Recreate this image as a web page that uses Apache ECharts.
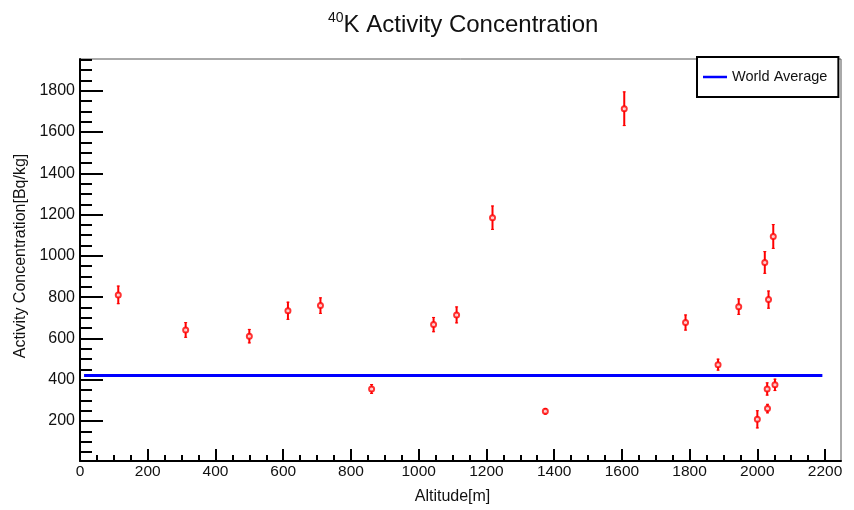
<!DOCTYPE html>
<html>
<head>
<meta charset="utf-8">
<title>40K Activity Concentration</title>
<script src="https://cdn.jsdelivr.net/npm/echarts@6/dist/echarts.min.js"></script>
<style>
  html, body { margin: 0; padding: 0; background: #fff; }
  #chart { width: 854px; height: 510px; }
</style>
</head>
<body>
<div id="chart"></div>
<script>
// sampling sites: altitude [m], 40K activity [Bq/kg] and its error
const altitude    = [113, 312, 500, 614, 710, 861, 1044, 1112, 1218, 1374, 1607, 1788, 1884, 1945, 2000, 2022, 2033, 2047, 2029, 2052, 2030];
const activity    = [811, 641, 611, 734, 759, 355,  667,  714, 1185,  247, 1713,  677,  473,  754,  208,  968,  788, 1094,  355,  375,  260];
const activityErr = [ 45,  38,  35,  44,  40,  24,   37,   41,   59,   16,   84,   39,   29,   40,   44,   55,   44,   60,   32,   30,   23];

// world average line
const worldAverage = 420;
const worldAvgFrom = 12;
const worldAvgTo = 2192;

// axis tick labels
const xTicks = [0, 200, 400, 600, 800, 1000, 1200, 1400, 1600, 1800, 2000, 2200];
const yTicks = [200, 400, 600, 800, 1000, 1200, 1400, 1600, 1800];

const X_MIN = 0, X_MAX = 2247;
const Y_MIN = 6, Y_MAX = 1954;
const FONT = '"Liberation Sans", Helvetica, Arial, sans-serif';
const TXT = '#111';

// small ticks every 50 (ROOT style: 4 divisions per label)
const xMinor = [];
for (let v = 0; v <= X_MAX; v += 50) xMinor.push(v);
const yMinor = [];
for (let v = 50; v <= Y_MAX; v += 50) yMinor.push(v);

const pointData = altitude.map((a, i) => [a, activity[i]]);
const errData = altitude.map((a, i) => [a, activity[i], activityErr[i]]);

// vertical error bar with tiny caps
function renderErrorBar(params, api) {
    const x = api.value(0);
    const y = api.value(1);
    const e = api.value(2);
    const hi = api.coord([x, y + e]);
    const lo = api.coord([x, y - e]);
    const style = { stroke: '#ff0000', lineWidth: 2 };
    return {
        type: 'group',
        children: [
            { type: 'line', shape: { x1: hi[0], y1: hi[1], x2: lo[0], y2: lo[1] }, style: style },
            { type: 'line', shape: { x1: hi[0] - 1.5, y1: hi[1] + 0.5, x2: hi[0] + 1.5, y2: hi[1] + 0.5 }, style: { stroke: '#ff0000', lineWidth: 1 } },
            { type: 'line', shape: { x1: lo[0] - 1.5, y1: lo[1] - 0.5, x2: lo[0] + 1.5, y2: lo[1] - 0.5 }, style: { stroke: '#ff0000', lineWidth: 1 } }
        ]
    };
}

const tickStyle = { color: '#000', width: 2 };
const plainNum = v => String(v);

const chart = echarts.init(document.getElementById('chart'), null, { renderer: 'canvas' });

chart.setOption({
    backgroundColor: '#fff',
    animation: false,
    title: {
        text: '{sup|40}{main|K Activity Concentration}',
        left: 323,
        top: 6,
        textStyle: {
            fontWeight: 'normal',
            rich: {
                sup: { fontSize: 14, fontFamily: FONT, fontWeight: 'normal', color: TXT, verticalAlign: 'top', lineHeight: 16 },
                main: { fontSize: 24, fontFamily: FONT, fontWeight: 'normal', color: TXT, lineHeight: 28 }
            }
        }
    },
    legend: {
        left: 697,
        top: 57,
        orient: 'vertical',
        padding: [12, 11, 12, 6],
        backgroundColor: '#fff',
        borderColor: '#000',
        borderWidth: 2,
        borderRadius: 0,
        itemWidth: 24,
        itemHeight: 2.5,
        itemGap: 0,
        textStyle: { fontSize: 14.5, fontFamily: FONT, color: TXT, lineHeight: 16 },
        data: [{ name: 'World Average', icon: 'rect' }]
    },
    grid: {
        left: 80,
        right: 13,
        top: 59,
        bottom: 49,
        show: true,
        borderColor: '#555',
        borderWidth: 1
    },
    xAxis: [
        {
            type: 'value',
            min: X_MIN,
            max: X_MAX,
            position: 'bottom',
            name: 'Altitude[m]',
            nameLocation: 'middle',
            nameGap: 28,
            nameTextStyle: { fontSize: 16, fontFamily: FONT, color: TXT, padding: [0, 16, 0, 0] },
            axisLine: { show: true, onZero: false, lineStyle: { color: '#000', width: 2 } },
            axisTick: { show: true, inside: true, length: 12, customValues: xTicks, lineStyle: tickStyle },
            axisLabel: { customValues: xTicks, formatter: plainNum, fontSize: 15.5, fontFamily: FONT, color: TXT, margin: 3 },
            splitLine: { show: false }
        },
        {
            type: 'value',
            min: X_MIN,
            max: X_MAX,
            position: 'bottom',
            axisLine: { show: false, onZero: false },
            axisTick: { show: true, inside: true, length: 6, customValues: xMinor, lineStyle: tickStyle },
            axisLabel: { show: false },
            splitLine: { show: false }
        }
    ],
    yAxis: [
        {
            type: 'value',
            min: Y_MIN,
            max: Y_MAX,
            position: 'left',
            name: 'Activity Concentration[Bq/kg]',
            nameLocation: 'middle',
            nameGap: 47,
            nameTextStyle: { fontSize: 16, fontFamily: FONT, color: TXT, padding: [0, 0, 0, 8] },
            axisLine: { show: true, onZero: false, lineStyle: { color: '#000', width: 2 } },
            axisTick: { show: true, inside: true, length: 23, customValues: yTicks, lineStyle: tickStyle },
            axisLabel: { customValues: yTicks, formatter: plainNum, fontSize: 16, fontFamily: FONT, color: TXT, margin: 5 },
            splitLine: { show: false }
        },
        {
            type: 'value',
            min: Y_MIN,
            max: Y_MAX,
            position: 'left',
            axisLine: { show: false, onZero: false },
            axisTick: { show: true, inside: true, length: 12, customValues: yMinor, lineStyle: tickStyle },
            axisLabel: { show: false },
            splitLine: { show: false }
        }
    ],
    series: [
        {
            name: 'World Average',
            type: 'line',
            xAxisIndex: 0,
            yAxisIndex: 0,
            data: [[worldAvgFrom, worldAverage], [worldAvgTo, worldAverage]],
            symbol: 'none',
            color: '#0000ff',
            lineStyle: { color: '#0000ff', width: 3 },
            z: 2
        },
        {
            name: 'error',
            type: 'custom',
            xAxisIndex: 0,
            yAxisIndex: 0,
            data: errData,
            encode: { x: 0, y: 1 },
            renderItem: renderErrorBar,
            z: 3
        },
        {
            name: 'samples',
            type: 'scatter',
            xAxisIndex: 0,
            yAxisIndex: 0,
            data: pointData,
            symbol: 'emptyCircle',
            symbolSize: 5,
            itemStyle: { color: '#ff0000', borderColor: '#ff0000', borderWidth: 1.5 },
            z: 4
        }
    ]
});
</script>
</body>
</html>
